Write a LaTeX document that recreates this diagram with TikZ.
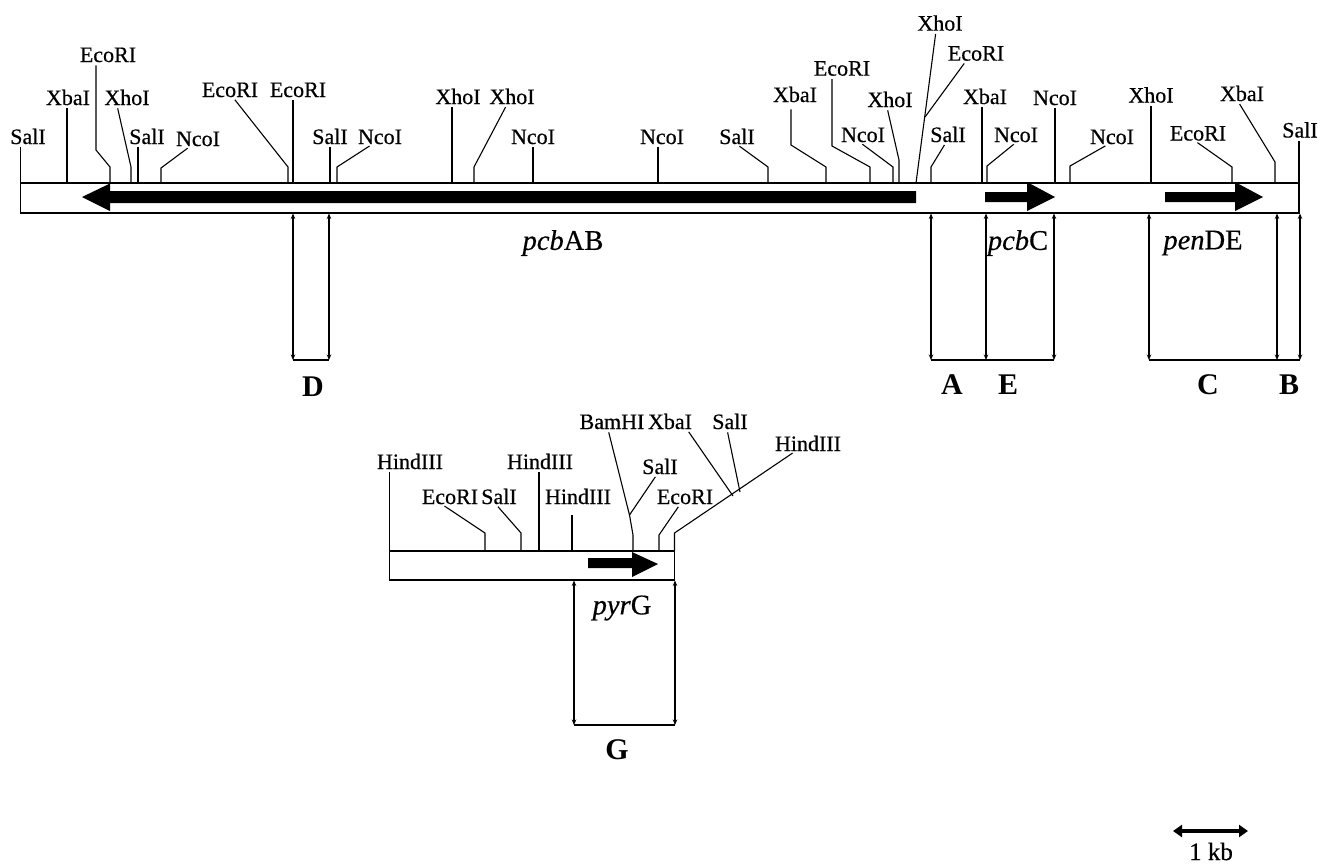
\documentclass[tikz,border=0pt]{standalone}
\usepackage{fontspec}
\setmainfont{Liberation Serif}
\newfontfamily\labfont{Liberation Serif}[FakeBold=0.5]
\usetikzlibrary{arrows.meta}
\tikzset{
  enz/.style={font=\labfont\fontsize{22}{24}\selectfont, inner sep=0pt, anchor=base},
  site/.style={line width=1.1pt, shorten <=3pt},
  gene/.style={font=\labfont\fontsize{28.5}{30}\selectfont, inner sep=0pt},
  fraglab/.style={font=\fontsize{30}{32}\selectfont\bfseries, inner sep=0pt},
  frag/.style={line width=1.2pt, {Stealth[length=5.5pt,width=4.5pt]}-{Stealth[length=5.5pt,width=4.5pt]}},
  fragbase/.style={line width=1.2pt},
  bar/.style={draw, line width=1.5pt, fill=white},
  genearrow/.style={fill=black, draw=none},
}
\begin{document}
\begin{tikzpicture}[x=1pt,y=-1pt]
\useasboundingbox (0,0) rectangle (1320,863);

% ---------------- top map ----------------
\draw[bar] (20.5,183) rectangle (1299,213);
\fill[genearrow] (82,197) -- (110,183.5) -- (110,191) -- (916,191) -- (916,203) -- (110,203) -- (110,211) -- cycle;
\fill[genearrow] (985,192) -- (1027,192) -- (1027,182) -- (1055,197) -- (1027,211) -- (1027,202) -- (985,202) -- cycle;
\fill[genearrow] (1165,192) -- (1235,192) -- (1235,182) -- (1263,197) -- (1235,211) -- (1235,202) -- (1165,202) -- cycle;

\node[enz] (s1) at (28,144) {SalI};
\draw[site] (s1.south -| 20.5,0) -- (20.5,183);
\node[enz] (s2) at (68,105) {XbaI};
\draw[site] (s2.south -| 67,0) -- (67,183);
\node[enz] (s3) at (108,62) {EcoRI};
\draw[site] (s3.south -| 96,0) -- (96,150) -- (110,167) -- (110,183);
\node[enz] (s4) at (127,105) {XhoI};
\draw[site] (s4.south -| 117,0) -- (131,167) -- (131,183);
\node[enz] (s5) at (147,144) {SalI};
\draw[site] (s5.south -| 138,0) -- (138,183);
\node[enz] (s6) at (198,146) {NcoI};
\draw[site] (s6.south -| 190,0) -- (161,168) -- (161,183);
\node[enz] (s7) at (230,97) {EcoRI};
\draw[site] (s7.south -| 233,0) -- (288,167) -- (288,183);
\node[enz] (s8) at (298,97) {EcoRI};
\draw[site] (s8.south -| 293,0) -- (293,183);
\node[enz] (s9) at (330,144) {SalI};
\draw[site] (s9.south -| 330,0) -- (330,183);
\node[enz] (s10) at (380,144) {NcoI};
\draw[site] (s10.south -| 372,0) -- (337,167) -- (337,183);
\node[enz] (s11) at (458,104) {XhoI};
\draw[site] (s11.south -| 452,0) -- (452,183);
\node[enz] (s12) at (512,104) {XhoI};
\draw[site] (s12.south -| 507,0) -- (474,167) -- (474,183);
\node[enz] (s13) at (533,144) {NcoI};
\draw[site] (s13.south -| 533,0) -- (533,183);
\node[enz] (s14) at (662,144) {NcoI};
\draw[site] (s14.south -| 658,0) -- (658,183);
\node[enz] (s15) at (737,144) {SalI};
\draw[site] (s15.south -| 737,0) -- (768,167) -- (768,183);
\node[enz] (s16) at (795,102) {XbaI};
\draw[site, shorten <=7pt] (s16.south -| 791,0) -- (791,145) -- (826,167) -- (826,183);
\node[enz] (s17) at (842,75.6) {EcoRI};
\draw[site] (s17.south -| 832,0) -- (832,146) -- (870,167) -- (870,183);
\node[enz] (s18) at (863,142) {NcoI};
\draw[site] (s18.south -| 860,0) -- (893,167) -- (893,183);
\node[enz] (s19) at (890,107) {XhoI};
\draw[site] (s19.south -| 887,0) -- (899,160) -- (899,183);
\node[enz] (s20) at (940,30.6) {XhoI};
\draw[site] (s20.south -| 936,0) -- (916,183);
\node[enz] (s21) at (976,60.6) {EcoRI};
\draw[site] (s21.south -| 966,0) -- (925,117);
\node[enz] (s22) at (948,142) {SalI};
\draw[site] (s22.south -| 946,0) -- (931,167) -- (931,183);
\node[enz] (s23) at (985,104) {XbaI};
\draw[site] (s23.south -| 982,0) -- (982,183);
\node[enz] (s24) at (1016,142) {NcoI};
\draw[site] (s24.south -| 1016,0) -- (987,166) -- (987,183);
\node[enz] (s25) at (1055,105) {NcoI};
\draw[site] (s25.south -| 1055,0) -- (1055,183);
\node[enz] (s26) at (1112,144) {NcoI};
\draw[site] (s26.south -| 1108,0) -- (1070,166) -- (1070,183);
\node[enz] (s27) at (1151,102.5) {XhoI};
\draw[site] (s27.south -| 1151,0) -- (1151,183);
\node[enz] (s28) at (1198,140.5) {EcoRI};
\draw[site] (s28.south -| 1195,0) -- (1232,167) -- (1232,183);
\node[enz] (s29) at (1242,101) {XbaI};
\draw[site] (s29.south -| 1238,0) -- (1275,162) -- (1275,183);
\node[enz] (s30) at (1300,137.5) {SalI};
\draw[site] (s30.south -| 1299,0) -- (1299,183);

\node[gene] (gAB) at (563,243) {\textit{pcb}AB};
\node[gene] (gC) at (1018,243) {\textit{pcb}C};
\node[gene] (gDE) at (1203,243) {\textit{pen}DE};

% fragments below top map
\foreach \n/\xx in {d1/293,d2/329,a1/931,a2/986,e2/1054,c1/1149,c2/1277,b2/1300}{
  \coordinate (\n t) at (\xx,213.5);
  \coordinate (\n b) at (\xx,360);
  \draw[frag] (\n t) -- (\n b);
}
\draw[fragbase] (d1b) -- (d2b);
\draw[fragbase] (a1b) -- (a2b) -- (e2b);
\draw[fragbase] (c1b) -- (c2b) -- (b2b);
\node[fraglab] (fD) at (313,387) {D};
\node[fraglab] (fA) at (952,385) {A};
\node[fraglab] (fE) at (1008,385) {E};
\node[fraglab] (fC) at (1208,385) {C};
\node[fraglab] (fB) at (1289,385) {B};

% ---------------- pyrG map ----------------
\draw[bar] (389.5,551) rectangle (674.5,580);
\fill[genearrow] (588,558) -- (632,558) -- (632,552) -- (658,564) -- (632,577) -- (632,568) -- (588,568) -- cycle;

\node[enz] (b1) at (410,469) {HindIII};
\draw[site] (b1.south -| 389.5,0) -- (389.5,551);
\node[enz] (b2) at (450,504) {EcoRI};
\draw[site] (b2.south -| 442,0) -- (485,533) -- (485,551);
\node[enz] (b3) at (499,504) {SalI};
\draw[site] (b3.south -| 496,0) -- (521,533) -- (521,551);
\node[enz] (b4) at (540,469) {HindIII};
\draw[site] (b4.south -| 539,0) -- (539,551);
\node[enz] (b5) at (578,504) {HindIII};
\draw[site, shorten <=11pt] (b5.south -| 572,0) -- (572,551);
\node[enz] (b6) at (612,429) {BamHI};
\draw[site] (b6.south -| 608,0) -- (629.5,515) -- (633,535) -- (633,551);
\node[enz] (b7) at (660,474) {SalI};
\draw[site] (b7.south -| 657,0) -- (629.5,515);
\node[enz] (b8) at (685,504) {EcoRI};
\draw[site] (b8.south -| 680,0) -- (659,535) -- (659,551);
\node[enz] (b9) at (670,429) {XbaI};
\draw[site] (b9.south -| 687,0) -- (733,496);
\node[enz] (b10) at (730,429) {SalI};
\draw[site] (b10.south -| 727,0) -- (740,492);
\node[enz] (b11) at (808,451) {HindIII};
\draw[site] (b11.south -| 795,0) -- (674.5,533) -- (674.5,551);

\node[gene] (gG) at (622,608) {\textit{pyr}G};
\coordinate (g1t) at (574,580.5);
\coordinate (g1b) at (574,725);
\coordinate (g2t) at (675,580.5);
\coordinate (g2b) at (675,725);
\draw[frag] (g1t) -- (g1b);
\draw[frag] (g2t) -- (g2b);
\draw[fragbase] (g1b) -- (g2b);
\node[fraglab] (fG) at (617,750) {G};

% ---------------- scale bar ----------------
\coordinate (kb1) at (1173,831);
\coordinate (kb2) at (1248,831);
\draw[line width=3.5pt, {Triangle[length=9pt,width=12pt]}-{Triangle[length=9pt,width=12pt]}] (kb1) -- (kb2);
\node[font=\labfont\fontsize{25}{27}\selectfont, inner sep=0pt, anchor=base] (kb) at (1211,860) {1 kb};
\end{tikzpicture}
\end{document}
